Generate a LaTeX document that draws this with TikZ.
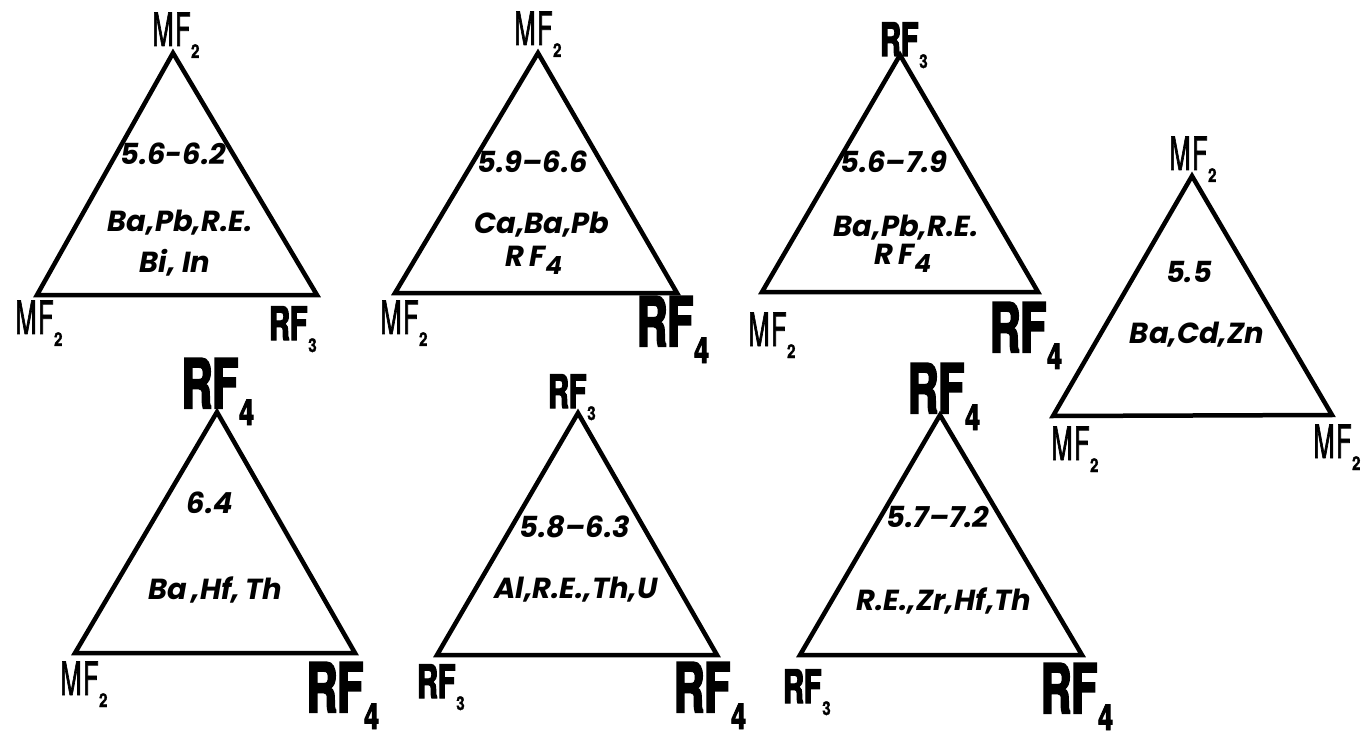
\documentclass[tikz,border=0pt]{standalone}
\usepackage{fontspec}
\newfontfamily\cnd[FakeStretch=0.55,FakeBold=1.4]{TeX Gyre Heros}
\newfontfamily\cndb[FakeStretch=0.62,FakeBold=3]{TeX Gyre Heros}
\newfontfamily\subf[FakeStretch=0.8,FakeBold=1.5]{TeX Gyre Heros}
\newfontfamily\subfb[FakeStretch=0.75,FakeBold=2.5]{TeX Gyre Heros}
\newfontfamily\inn{Poppins}
\newcommand\MFl{{\cnd\fontsize{46}{46}\selectfont M\kern1.5pt F}\kern0.5pt\raisebox{-12pt}{\subf\bfseries\fontsize{19}{19}\selectfont 2}}
\newcommand\RFt{{\cndb\bfseries\fontsize{46}{46}\selectfont RF}\kern1pt\raisebox{-12pt}{\subf\bfseries\fontsize{19}{19}\selectfont 3}}
\newcommand\RFf{{\cndb\bfseries\fontsize{68}{68}\selectfont RF}\kern1pt\raisebox{-17pt}{\subfb\bfseries\fontsize{36}{36}\selectfont 4}}
\newcommand\RFin{R\,F\raisebox{-8pt}{\fontsize{25}{25}\selectfont 4}}
\begin{document}
\begin{tikzpicture}[x=1pt,y=-1pt,
  tri/.style={line width=4.5pt,line join=miter},
  lab/.style={inner sep=0pt,anchor=base},
  inner/.style={inner sep=0pt,anchor=center,font=\inn\bfseries\itshape\fontsize{29}{29}\selectfont}]
\useasboundingbox (0,0) rectangle (1366,738);
% triangle 1
\coordinate (t1a) at (173,53); \coordinate (t1l) at (37,295); \coordinate (t1r) at (317,295);
\draw[tri] (t1a) -- (t1l) -- (t1r) -- cycle;
\node[lab] (t1A) at (176,46) {\MFl};
\node[lab] (t1L) at (39,334) {\MFl};
\node[lab] (t1R) at (293,340) {\RFt};
\node[inner] (t1n) at (173,154) {5.6-6.2};
\node[inner] (t1e) at (180,223) {Ba,Pb,R.E.};
\node[inner] (t1f) at (175,263) {Bi, In};
% triangle 2
\coordinate (t2a) at (538,53); \coordinate (t2l) at (395,293); \coordinate (t2r) at (677,293);
\draw[tri] (t2a) -- (t2l) -- (t2r) -- cycle;
\node[lab] (t2A) at (538,45) {\MFl};
\node[lab] (t2L) at (404,334) {\MFl};
\node[lab] (t2R) at (673,346) {\RFf};
\node[inner] (t2n) at (533,162) {5.9–6.6};
\node[inner] (t2e) at (542,225) {Ca,Ba,Pb};
\node[inner] (t2f) at (534,260) {\RFin};
% triangle 3
\coordinate (t3a) at (900,55); \coordinate (t3l) at (762,292); \coordinate (t3r) at (1038,292);
\draw[tri] (t3a) -- (t3l) -- (t3r) -- cycle;
\node[lab] (t3A) at (904,56) {\RFt};
\node[lab] (t3L) at (772,346) {\MFl};
\node[lab] (t3R) at (1026,352) {\RFf};
\node[inner] (t3n) at (894,162) {5.6–7.9};
\node[inner] (t3e) at (906,228) {Ba,Pb,R.E.};
\node[inner] (t3f) at (903,258) {\RFin};
% triangle 4
\coordinate (t4a) at (1192,176); \coordinate (t4l) at (1053,416); \coordinate (t4r) at (1332,415);
\draw[tri] (t4a) -- (t4l) -- (t4r) -- cycle;
\node[lab] (t4A) at (1193,170) {\MFl};
\node[lab] (t4L) at (1075,460) {\MFl};
\node[lab] (t4R) at (1337,458) {\MFl};
\node[inner] (t4n) at (1189,272) {5.5};
\node[inner] (t4e) at (1197,335) {Ba,Cd,Zn};
% triangle 5
\coordinate (t5a) at (217,412); \coordinate (t5l) at (75,653); \coordinate (t5r) at (355,653);
\draw[tri] (t5a) -- (t5l) -- (t5r) -- cycle;
\node[lab] (t5A) at (218,408) {\RFf};
\node[lab] (t5L) at (84,695) {\MFl};
\node[lab] (t5R) at (343,712) {\RFf};
\node[inner] (t5n) at (210,503) {6.4};
\node[inner] (t5e) at (215,590) {Ba\,,Hf,\,Th};
% triangle 6
\coordinate (t6a) at (578,413); \coordinate (t6l) at (437,655); \coordinate (t6r) at (717,655);
\draw[tri] (t6a) -- (t6l) -- (t6r) -- cycle;
\node[lab] (t6A) at (572,408) {\RFt};
\node[lab] (t6L) at (441,698) {\RFt};
\node[lab] (t6R) at (710,712) {\RFf};
\node[inner] (t6n) at (575,527) {5.8–6.3};
\node[inner] (t6e) at (576,590) {Al,R.E.,Th,U};
% triangle 7
\coordinate (t7a) at (940,415); \coordinate (t7l) at (800,655); \coordinate (t7r) at (1082,655);
\draw[tri] (t7a) -- (t7l) -- (t7r) -- cycle;
\node[lab] (t7A) at (944,413) {\RFf};
\node[lab] (t7L) at (807,703) {\RFt};
\node[lab] (t7R) at (1077,713) {\RFf};
\node[inner] (t7n) at (938,517) {5.7–7.2};
\node[inner] (t7e) at (944,601) {R.E.,Zr,Hf,Th};
\end{tikzpicture}
\end{document}
